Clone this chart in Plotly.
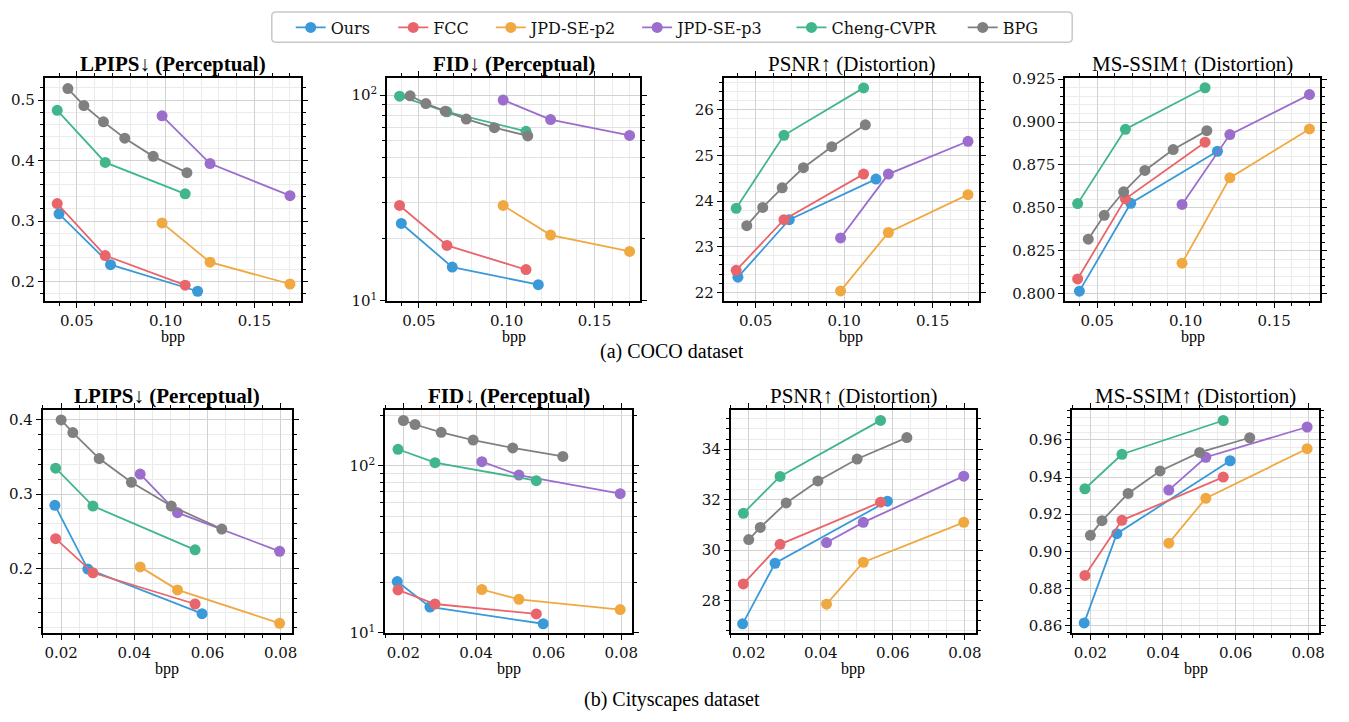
import plotly.graph_objects as go

W, H = 1349, 722

methods = ["Ours", "FCC", "JPD-SE-p2", "JPD-SE-p3", "Cheng-CVPR", "BPG"]
colors = ["#3a9ad9", "#e8666b", "#f0a940", "#9b6dcc", "#40b68a", "#808080"]

# ---------------- COCO ----------------
coco_bpp = {
    "Ours": [0.040, 0.069, 0.118],
    "FCC": [0.039, 0.066, 0.111],
    "JPD-SE-p2": [0.098, 0.125, 0.170],
    "JPD-SE-p3": [0.098, 0.125, 0.170],
    "Cheng-CVPR": [0.039, 0.066, 0.111],
    "BPG": [0.045, 0.054, 0.065, 0.077, 0.093, 0.112],
}
coco_lpips = {
    "Ours": [0.312, 0.228, 0.184],
    "FCC": [0.329, 0.243, 0.194],
    "JPD-SE-p2": [0.297, 0.232, 0.196],
    "JPD-SE-p3": [0.474, 0.395, 0.342],
    "Cheng-CVPR": [0.483, 0.397, 0.345],
    "BPG": [0.519, 0.491, 0.464, 0.437, 0.407, 0.380],
}
coco_fid = {
    "Ours": [23.8, 14.6, 12.0],
    "FCC": [29.1, 18.6, 14.2],
    "JPD-SE-p2": [29.1, 20.9, 17.4],
    "JPD-SE-p3": [94.7, 76.1, 63.7],
    "Cheng-CVPR": [98.9, 83.0, 66.7],
    "BPG": [99.3, 91.0, 83.6, 76.5, 69.5, 63.4],
}
coco_psnr = {
    "Ours": [22.33, 23.59, 24.48],
    "FCC": [22.48, 23.59, 24.59],
    "JPD-SE-p2": [22.03, 23.31, 24.14],
    "JPD-SE-p3": [23.19, 24.59, 25.31],
    "Cheng-CVPR": [23.84, 25.44, 26.48],
    "BPG": [23.46, 23.86, 24.29, 24.73, 25.19, 25.67],
}
coco_msssim = {
    "Ours": [0.8015, 0.8527, 0.8830],
    "FCC": [0.8086, 0.8553, 0.8883],
    "JPD-SE-p2": [0.8178, 0.8675, 0.8960],
    "JPD-SE-p3": [0.8520, 0.8927, 0.9160],
    "Cheng-CVPR": [0.8525, 0.8958, 0.9200],
    "BPG": [0.8318, 0.8457, 0.8594, 0.8718, 0.8840, 0.8950],
}

# ---------------- Cityscapes ----------------
city_bpp = {
    "Ours": [0.0183, 0.0273, 0.0585],
    "FCC": [0.0185, 0.0287, 0.0566],
    "JPD-SE-p2": [0.0416, 0.0518, 0.0797],
    "JPD-SE-p3": [0.0416, 0.0518, 0.0797],
    "Cheng-CVPR": [0.0185, 0.0287, 0.0566],
    "BPG": [0.0200, 0.0232, 0.0304, 0.0392, 0.0501, 0.0639],
}
city_lpips = {
    "Ours": [0.285, 0.199, 0.139],
    "FCC": [0.240, 0.194, 0.152],
    "JPD-SE-p2": [0.202, 0.171, 0.126],
    "JPD-SE-p3": [0.327, 0.275, 0.223],
    "Cheng-CVPR": [0.335, 0.284, 0.225],
    "BPG": [0.400, 0.383, 0.348, 0.316, 0.284, 0.253],
}
city_fid = {
    "Ours": [20.3, 14.3, 11.35],
    "FCC": [18.1, 14.9, 13.0],
    "JPD-SE-p2": [18.2, 15.9, 13.8],
    "JPD-SE-p3": [106.0, 88.1, 68.2],
    "Cheng-CVPR": [125.8, 104.6, 81.6],
    "BPG": [187.0, 177.0, 159.0, 142.8, 128.1, 114.0],
}
city_psnr = {
    "Ours": [27.08, 29.48, 31.94],
    "FCC": [28.66, 30.23, 31.90],
    "JPD-SE-p2": [27.86, 29.52, 31.10],
    "JPD-SE-p3": [30.30, 31.10, 32.93],
    "Cheng-CVPR": [31.46, 32.92, 35.14],
    "BPG": [30.42, 30.90, 31.87, 32.74, 33.61, 34.46],
}
city_msssim = {
    "Ours": [0.8614, 0.9095, 0.9488],
    "FCC": [0.8870, 0.9167, 0.9400],
    "JPD-SE-p2": [0.9044, 0.9286, 0.9553],
    "JPD-SE-p3": [0.9330, 0.9507, 0.9670],
    "Cheng-CVPR": [0.9337, 0.9523, 0.9705],
    "BPG": [0.9086, 0.9165, 0.9312, 0.9433, 0.9533, 0.9612],
}

titles = ["LPIPS↓ (Perceptual)", "FID↓ (Perceptual)", "PSNR↑ (Distortion)", "MS-SSIM↑ (Distortion)"]
title_bold = [True, True, False, False]
captions = ["(a) COCO dataset", "(b) Cityscapes dataset"]
coco_xticks = [0.05, 0.10, 0.15]
city_xticks = [0.02, 0.04, 0.06, 0.08]


def px(x):
    return x / W


def py(y):
    return 1 - y / H


# panel pixel boxes (left, right, top, bottom)
boxes = [
    (45, 302, 72, 300), (389, 643, 72, 300), (727, 983, 72, 300), (1070, 1326, 72, 300),
    (43, 293, 412, 640), (387, 635, 412, 640), (734, 980, 412, 640), (1077, 1325, 412, 640),
]

panels = [
    (coco_bpp, coco_lpips), (coco_bpp, coco_fid), (coco_bpp, coco_psnr), (coco_bpp, coco_msssim),
    (city_bpp, city_lpips), (city_bpp, city_fid), (city_bpp, city_psnr), (city_bpp, city_msssim),
]

yspecs = [
    dict(range=[0.168, 0.536], dtick=0.1, tick0=0, tickformat=".1f", minor_dtick=0.02),
    dict(type="log", range=[1, 2.082]),
    dict(range=[21.81, 26.69], dtick=1, tick0=0, tickformat="d", minor_dtick=0.2),
    dict(range=[0.7958, 0.9255], dtick=0.025, tick0=0, tickformat=".3f", minor_dtick=0.005),
    dict(range=[0.113, 0.413], dtick=0.1, tick0=0, tickformat=".1f", minor_dtick=0.02),
    dict(type="log", range=[1, 2.333]),
    dict(range=[26.72, 35.54], dtick=2, tick0=0, tickformat="d", minor_dtick=0.4),
    dict(range=[0.856, 0.976], dtick=0.02, tick0=0, tickformat=".2f", minor_dtick=0.004),
]

SERIF = "DejaVu Serif, serif"
TIMES = "Liberation Serif, Times New Roman, serif"
TICKFONT = dict(family=SERIF, size=15, color="#111")
GRID = "#d2d2d2"
MINORGRID = "#ebebeb"

legend_names = ["legend", "legend2", "legend3", "legend4", "legend5", "legend6"]
legend_line_x = [298, 401, 499, 646, 801, 973]

fig = go.Figure()
layout = {}
for i, ((bppd, vald), box, ys) in enumerate(zip(panels, boxes, yspecs)):
    n = i + 1
    xa = f"x{n}" if n > 1 else "x"
    ya = f"y{n}" if n > 1 else "y"
    for k, (m, c) in enumerate(zip(methods, colors)):
        fig.add_trace(go.Scatter(
            x=bppd[m], y=vald[m], mode="lines+markers", name=m,
            line=dict(color=c, width=1.8), marker=dict(color=c, size=11),
            xaxis=xa, yaxis=ya, showlegend=(i == 0), legendgroup=m,
            legend=legend_names[k],
        ))
    l, r, t, b = box
    row2 = i >= 4
    xt = city_xticks if row2 else coco_xticks
    xr = [0.015, 0.083] if row2 else [0.032, 0.176]
    common = dict(showline=True, mirror="ticks", linecolor="black", linewidth=2,
                  ticks="outside", ticklen=5, tickwidth=1.2, tickcolor="black",
                  showgrid=True, gridcolor=GRID, gridwidth=1.3, zeroline=False,
                  tickfont=TICKFONT)
    xaxis = dict(domain=[px(l), px(r)], anchor=ya, range=xr,
                 tickmode="array", tickvals=xt, ticktext=[f"{v:.2f}" for v in xt],
                 minor=dict(dtick=0.005 if row2 else 0.01, tick0=0, ticks="outside", ticklen=3,
                            tickcolor="black", showgrid=True, gridcolor=MINORGRID, gridwidth=1),
                 **common)
    if ys.get("type") == "log":
        mvals = [v * 10 for v in range(2, 10)] + [200, 300]
        yaxis = dict(domain=[py(b), py(t)], anchor=xa, type="log", range=ys["range"],
                     tickmode="array", tickvals=[10, 100], ticktext=["10<sup>1</sup>", "10<sup>2</sup>"],
                     minor=dict(tickmode="array", tickvals=[3, 4, 5, 6, 7, 8, 9] + mvals, ticks="outside",
                                ticklen=3, tickcolor="black", showgrid=True, gridcolor="#e2e2e2", gridwidth=1),
                     **common)
    else:
        yaxis = dict(domain=[py(b), py(t)], anchor=xa, range=ys["range"],
                     dtick=ys["dtick"], tick0=ys["tick0"], tickformat=ys["tickformat"],
                     minor=dict(dtick=ys["minor_dtick"], tick0=0, ticks="outside", ticklen=3,
                                tickcolor="black", showgrid=True, gridcolor=MINORGRID, gridwidth=1),
                     **common)
    layout[f"xaxis{n}" if n > 1 else "xaxis"] = xaxis
    layout[f"yaxis{n}" if n > 1 else "yaxis"] = yaxis

annotations = []
for i, box in enumerate(boxes):
    l, r, t, b = box
    cx = px((l + r) / 2)
    txt = titles[i % 4]
    if title_bold[i % 4]:
        txt = f"<b>{txt}</b>"
    annotations.append(dict(text=txt, x=cx, y=py(t - 15), xref="paper", yref="paper",
                            xanchor="center", yanchor="middle", showarrow=False,
                            font=dict(family=TIMES, size=21, color="black")))
    annotations.append(dict(text="bpp", x=cx, y=py(b + 37), xref="paper", yref="paper",
                            xanchor="center", yanchor="middle", showarrow=False,
                            font=dict(family=TIMES, size=16, color="black")))
for k, yc in enumerate([352, 708]):
    annotations.append(dict(text=captions[k], x=px(675), y=py(yc), xref="paper", yref="paper",
                            xanchor="center", yanchor="middle", showarrow=False,
                            font=dict(family=TIMES, size=20, color="black")))

# legends: one per method, placed like the reference's single framed legend
for k, name in enumerate(legend_names):
    layout[name] = dict(orientation="h", x=px(legend_line_x[k] - 6), xanchor="left",
                        y=py(20), yanchor="middle", bgcolor="rgba(0,0,0,0)", borderwidth=0,
                        font=dict(family=SERIF, size=16, color="#111"), itemwidth=30)

# rounded legend frame
x0, x1, y0, y1 = px(273), px(1077), py(35), py(4)
rx, ry = 4 / W, 4 / H
frame_path = (f"M {x0+rx},{y0} L {x1-rx},{y0} Q {x1},{y0} {x1},{y0+ry} "
              f"L {x1},{y1-ry} Q {x1},{y1} {x1-rx},{y1} L {x0+rx},{y1} "
              f"Q {x0},{y1} {x0},{y1-ry} L {x0},{y0+ry} Q {x0},{y0} {x0+rx},{y0} Z")

fig.update_layout(
    **layout,
    width=W, height=H,
    margin=dict(l=0, r=0, t=0, b=0),
    paper_bgcolor="white", plot_bgcolor="white",
    annotations=annotations,
    shapes=[dict(type="path", path=frame_path, xref="paper", yref="paper",
                 line=dict(color="#c8c8c8", width=1.5), fillcolor="rgba(0,0,0,0)")],
)

fig.write_html("out.html", config={"displayModeBar": False},
               post_script="document.body.style.margin='0px';")
